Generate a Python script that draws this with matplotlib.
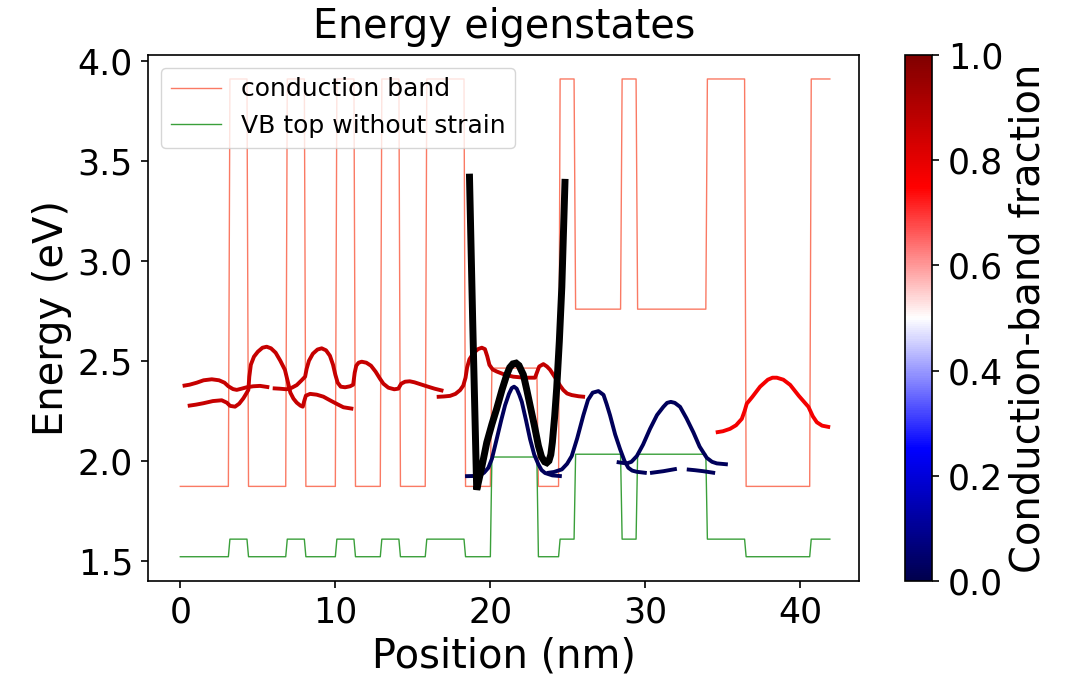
import numpy as np
import matplotlib
matplotlib.use("Agg")
import matplotlib.pyplot as plt
from matplotlib import cm, colors

nan = np.nan

# ---- band-edge profile (layer data) ----
layer_edges = [0.0, 3.2, 4.4, 6.9, 8.1, 10.1, 11.3, 13.0, 14.2, 15.9, 18.4,
               20.1, 23.1, 24.5, 25.5, 28.5, 29.5, 34.0, 36.5, 40.7, 41.9]
cb_layer = [1.871, 3.91, 1.871, 3.91, 1.871, 3.91, 1.871, 3.91, 1.871, 3.91,
            1.871, 2.463, 1.871, 3.91, 2.758, 3.91, 2.758, 3.91, 1.871, 3.91]
vb_layer = [1.519, 1.607, 1.519, 1.607, 1.519, 1.607, 1.519, 1.607, 1.519, 1.607,
            1.519, 2.018, 1.519, 1.607, 2.032, 1.607, 2.032, 1.607, 1.519, 1.607]
grid_step = 0.1

# ---- eigenstates (position nm, energy eV) and conduction-band fraction ----
s1_x = [0.15, 0.6, 1.06, 1.5, 2.03, 2.5, 2.85, 3.1, 3.4, 3.64, 3.95, 4.28, 4.7, 5.14,
        5.74, nan, 5.96, 6.4, 6.86, 7.2, 7.51, 7.8, 8.05, 8.15, 8.3, 8.55, 8.85, 9.12,
        9.4, 9.65, 9.85, 10.0, 10.15, 10.35, 10.63, 10.95, 11.15, 11.25, 11.35, 11.5,
        11.7, 12.0, 12.3, 12.6, 12.88, 13.1, 13.42, 13.8, 14.06, 14.25, 14.5, 14.8,
        15.1, 15.5, 15.9, 16.4, 16.97]
s1_E = [2.374, 2.38, 2.39, 2.402, 2.407, 2.402, 2.39, 2.372, 2.358, 2.354, 2.36, 2.367,
        2.372, 2.374, 2.367, nan, 2.362, 2.36, 2.357, 2.365, 2.378, 2.40, 2.42, 2.46,
        2.50, 2.535, 2.556, 2.562, 2.552, 2.525, 2.48, 2.43, 2.39, 2.37, 2.367, 2.372,
        2.38, 2.44, 2.475, 2.49, 2.495, 2.49, 2.475, 2.445, 2.41, 2.385, 2.365, 2.357,
        2.36, 2.385, 2.395, 2.397, 2.392, 2.382, 2.372, 2.36, 2.349]
s2_x = [0.48, 1.0, 1.48, 2.1, 2.67, 3.0, 3.21, 3.53, 3.8, 4.07, 4.25, 4.39, 4.45, 4.55,
        4.75, 5.0, 5.3, 5.57, 5.85, 6.15, 6.45, 6.75, 6.95, 7.1, 7.3, 7.51, 7.75, 7.9,
        8.0, 8.1, 8.37, 8.8, 9.23, 9.7, 10.09, 10.52, 11.16]
s2_E = [2.274, 2.28, 2.287, 2.298, 2.302, 2.29, 2.274, 2.27, 2.285, 2.312, 2.335, 2.354,
        2.42, 2.48, 2.52, 2.545, 2.565, 2.57, 2.562, 2.54, 2.50, 2.454, 2.39, 2.34,
        2.31, 2.29, 2.275, 2.27, 2.30, 2.325, 2.334, 2.33, 2.32, 2.30, 2.284, 2.267, 2.259]
s3_x = [16.54, 17.0, 17.4, 17.75, 18.05, 18.25, 18.4, 18.5, 18.65, 18.9, 19.2, 19.45,
        19.65, 19.8, 19.94, 20.15, 20.41, 20.9, 21.48, 22.2, 22.88, 23.0, 23.15, 23.42,
        23.65, 23.85, 24.05, 24.28, 24.5, 24.71, 24.95, 25.25, 25.7, 26.11]
s3_E = [2.319, 2.321, 2.324, 2.334, 2.353, 2.375, 2.415, 2.466, 2.507, 2.537, 2.558,
        2.565, 2.558, 2.522, 2.479, 2.456, 2.446, 2.431, 2.42, 2.415, 2.415, 2.44, 2.471,
        2.483, 2.471, 2.455, 2.431, 2.404, 2.375, 2.353, 2.336, 2.328, 2.322, 2.319]
s4_x = [18.37, 18.9, 19.34, 19.6, 19.87, 20.1, 20.41, 20.7, 20.95, 21.2, 21.38, 21.53,
        21.7, 21.87, 22.03, 22.3, 22.56, 22.83, 23.1, 23.3, 23.53, 24.0, 24.61]
s4_E = [1.922, 1.923, 1.926, 1.94, 1.964, 2.009, 2.108, 2.202, 2.277, 2.334, 2.363,
        2.370, 2.36, 2.329, 2.294, 2.202, 2.108, 2.03, 1.981, 1.953, 1.938, 1.926, 1.922]
s5_x = [23.64, 24.1, 24.61, 24.95, 25.25, 25.6, 26.0, 26.3, 26.6, 26.97, 27.3, 27.5,
        27.72, 28.05, 28.37, 28.65, 28.9, 29.15, 29.45, 30.09, nan, 30.3, 31.16, 32.03,
        nan, 32.67, 33.2, 33.74, 34.5]
s5_E = [1.938, 1.943, 1.956, 1.984, 2.023, 2.111, 2.227, 2.304, 2.34, 2.348, 2.329,
        2.283, 2.227, 2.131, 2.057, 1.999, 1.964, 1.95, 1.944, 1.938, nan, 1.938, 1.947,
        1.959, nan, 1.956, 1.952, 1.947, 1.938]
s6_x = [28.15, 28.5, 28.8, 29.1, 29.45, 29.85, 30.3, 30.75, 31.16, 31.4, 31.64, 31.9,
        32.24, 32.65, 33.1, 33.5, 33.96, 34.3, 34.61, 35.32]
s6_E = [1.993, 1.989, 1.986, 1.994, 2.023, 2.08, 2.159, 2.228, 2.269, 2.289, 2.294,
        2.289, 2.269, 2.212, 2.141, 2.07, 2.014, 1.994, 1.986, 1.981]
s7_x = [34.54, 35.0, 35.46, 35.85, 36.22, 36.4, 36.54, 36.9, 37.4, 37.9, 38.2, 38.48,
        38.9, 39.34, 39.9, 40.52, 40.8, 41.06, 41.4, 41.92]
s7_E = [2.141, 2.147, 2.159, 2.177, 2.209, 2.248, 2.285, 2.319, 2.37, 2.405, 2.415,
        2.415, 2.405, 2.379, 2.324, 2.269, 2.222, 2.192, 2.175, 2.167]
state_x = [s1_x, s2_x, s3_x, s4_x, s5_x, s6_x, s7_x]
state_E = [s1_E, s2_E, s3_E, s4_E, s5_E, s6_E, s7_E]
cb_fraction = [0.86, 0.86, 0.87, 0.02, 0.02, 0.02, 0.77]

# ---- thick black curve ----
fit_x = [18.65, 18.86, 19.12, 19.45, 19.77, 20.1, 20.41, 20.75, 21.06, 21.25, 21.45,
         21.66, 21.85, 22.0, 22.13, 22.35, 22.56, 22.85, 23.1, 23.3, 23.5, 23.64, 23.78,
         23.9, 24.0, 24.15, 24.28, 24.45, 24.61, 24.82]
fit_E = [3.436, 2.70, 1.854, 1.969, 2.091, 2.182, 2.26, 2.354, 2.43, 2.466, 2.484,
         2.488, 2.476, 2.451, 2.43, 2.354, 2.277, 2.172, 2.074, 2.019, 1.994, 1.989,
         1.999, 2.03, 2.091, 2.222, 2.362, 2.598, 2.869, 3.41]

# ---- figure ----
W, H = 1074, 681
fig = plt.figure(figsize=(W / 100, H / 100), dpi=100)
ax = fig.add_axes([148.3 / W, 1 - 580.7 / H, (859.3 - 148.3) / W, (580.7 - 55) / H])
cax = fig.add_axes([905 / W, 1 - 581 / H, 26.7 / W, (581 - 55) / H])

x_grid = np.arange(0.0, layer_edges[-1] + grid_step / 2, grid_step)
idx = np.clip(np.searchsorted(layer_edges, x_grid + 1e-9, side="right") - 1, 0, len(cb_layer) - 1)
cb_prof = np.array(cb_layer)[idx]
vb_prof = np.array(vb_layer)[idx]

ax.plot(x_grid, cb_prof, color="#fa7a64", lw=1.0, label="conduction band")
ax.plot(x_grid, vb_prof, color="#3a9f3a", lw=1.0, label="VB top without strain")

cmap = plt.get_cmap("seismic")
norm = colors.Normalize(0, 1)
for xs, es, f in zip(state_x, state_E, cb_fraction):
    ax.plot(xs, es, color=cmap(norm(f)), lw=2.8, solid_capstyle="butt",
            solid_joinstyle="round")

ax.plot(fit_x, fit_E, color="black", lw=5.0, solid_joinstyle="miter",
        solid_capstyle="butt")

ax.set_xlim(-2.065, 43.8)
ax.set_ylim(1.399, 4.03)
ax.set_xticks([0, 10, 20, 30, 40])
ax.set_yticks([1.5, 2.0, 2.5, 3.0, 3.5, 4.0])
ax.set_yticklabels(["1.5", "2.0", "2.5", "3.0", "3.5", "4.0"])
ax.tick_params(labelsize=25, length=5, width=1.2, pad=6)
for sp in ax.spines.values():
    sp.set_linewidth(1.2)
ax.set_xlabel("Position (nm)", fontsize=28.8, labelpad=4.5)
ax.set_ylabel("Energy (eV)", fontsize=28.8, labelpad=4)
ax.set_title("Energy eigenstates", fontsize=28.5, pad=12)
ax.legend(loc="upper left", fontsize=18)

cb = fig.colorbar(cm.ScalarMappable(norm=norm, cmap=cmap), cax=cax)
cb.set_ticks([0.0, 0.2, 0.4, 0.6, 0.8, 1.0])
cb.ax.tick_params(labelsize=25, length=5, width=1.2, pad=6.5)
cb.outline.set_linewidth(1.2)
cb.set_label("Conduction-band fraction", fontsize=28.8)

fig.savefig("out.png", dpi=100)
